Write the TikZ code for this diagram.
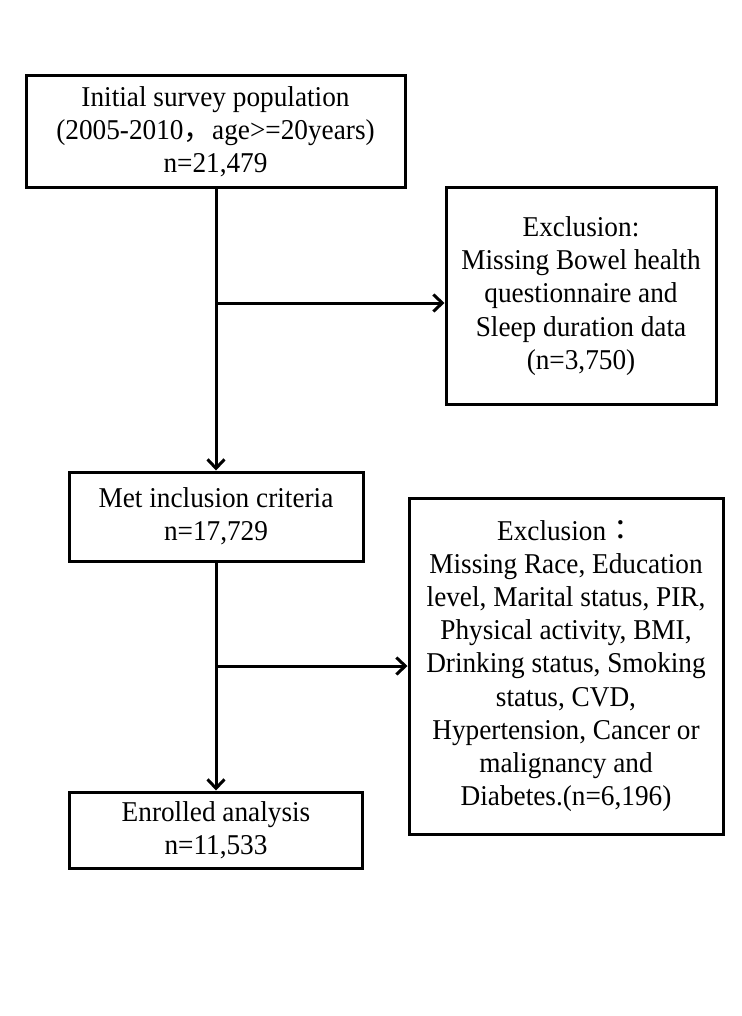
\documentclass[tikz,border=0pt]{standalone}
\usepackage{fontspec}
\setmainfont[FakeStretch=0.95]{Liberation Serif}
\newfontfamily\cjk{Noto Sans CJK SC}
\newfontfamily\cjktc{Noto Sans CJK TC}
\usetikzlibrary{arrows.meta}
\begin{document}
\begin{tikzpicture}[x=1pt,y=-1pt,
  box/.style={draw=black,line width=3pt,rectangle,inner sep=0pt,align=center,
    font=\fontsize{28.7}{33.2}\selectfont},
  arr/.style={line width=3pt,-{Straight Barb[length=9pt,width=17pt]}}]
\useasboundingbox[fill=white] (0,0) rectangle (741,1016);
\node[box,minimum width=379pt,minimum height=112pt] (b1) at (215.5,132)
  {Initial survey population\\(2005-2010{\cjk ，}age>=20years)\\n=21,479};
\node[box,minimum width=270pt,minimum height=216pt] (b2) at (581,296)
  {Exclusion:\\Missing Bowel health\\questionnaire and\\Sleep duration data\\(n=3,750)};
\node[box,minimum width=294pt,minimum height=89pt] (b3) at (216,516.5)
  {Met inclusion criteria\\n=17,729};
\node[box,minimum width=314pt,minimum height=336pt] (b5) at (566,666)
  {Exclusion{\cjktc ：}\\Missing Race, Education\\level, Marital status, PIR,\\Physical activity, BMI,\\Drinking status, Smoking\\status, CVD,\\Hypertension, Cancer or\\malignancy and\\Diabetes.(n=6,196)};
\node[box,minimum width=293pt,minimum height=76pt] (b4) at (216,830)
  {Enrolled analysis\\n=11,533};
\coordinate (j1) at (216,303);
\coordinate (j2) at (216,666);
\draw[arr] (b1.south -| j1) -- (b3.north);
\draw[arr] (j1) -- (j1 -| b2.west);
\draw[arr] (b3.south) -- (b4.north);
\draw[arr] (j2) -- (j2 -| b5.west);
\end{tikzpicture}
\end{document}
